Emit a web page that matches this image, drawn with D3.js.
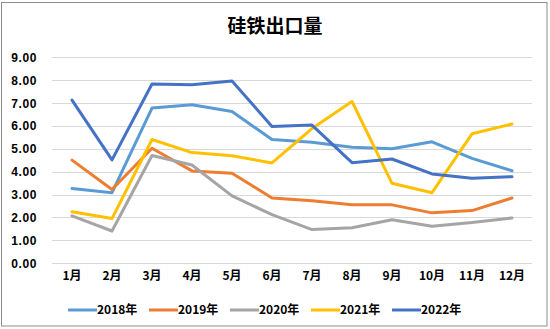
<!DOCTYPE html>
<html><head><meta charset="utf-8">
<script src="https://cdn.jsdelivr.net/npm/d3@7"></script>
<style>body{margin:0;background:#fff;}svg{display:block;}</style>
</head><body>
<svg id="c" width="550" height="329"></svg>
<script>
const months = ["1月","2月","3月","4月","5月","6月","7月","8月","9月","10月","11月","12月"];
const yTicks = [0,1,2,3,4,5,6,7,8,9];
const seriesNames = ["2018年","2019年","2020年","2021年","2022年"];
const colors = ["#5B9BD5","#ED7D31","#A5A5A5","#FFC000","#4472C4"];
const s2018 = [3.26,3.08,6.77,6.92,6.62,5.40,5.28,5.06,5.00,5.30,4.58,4.04];
const s2019 = [4.50,3.22,5.02,4.03,3.93,2.85,2.73,2.55,2.55,2.20,2.30,2.85];
const s2020 = [2.07,1.41,4.70,4.29,2.94,2.12,1.47,1.55,1.90,1.62,1.78,1.98];
const s2021 = [2.25,1.95,5.40,4.83,4.69,4.38,5.88,7.06,3.49,3.08,5.65,6.08];
const s2022 = [7.12,4.51,7.82,7.79,7.95,5.97,6.03,4.39,4.55,3.90,3.71,3.78];
const allSeries = [s2018,s2019,s2020,s2021,s2022];

const svg = d3.select("#c");
svg.append("rect").attr("x",1.5).attr("y",2.5).attr("width",545.5).attr("height",323.5)
  .attr("fill","#fff").attr("stroke","#8c8c8c").attr("stroke-width",1);

svg.append("text").attr("x",275).attr("y",33).attr("text-anchor","middle")
  .attr("font-family","'Noto Sans CJK SC'").attr("font-size",19).attr("font-weight","bold")
  .attr("fill","#000").text("硅铁出口量");

const x = d3.scaleBand().domain(months).range([52,532]);
const y = d3.scaleLinear().domain([0,9]).range([263.3,57]);

const grid = svg.append("g");
grid.selectAll("line").data(yTicks).join("line")
  .attr("x1",52).attr("x2",532)
  .attr("y1",d=>Math.round(y(d))+0.5).attr("y2",d=>Math.round(y(d))+0.5)
  .attr("stroke","#d9d9d9").attr("stroke-width",1);

const yAxis = d3.axisLeft(y).tickValues(yTicks).tickFormat(d3.format(".2f")).tickSize(0).tickPadding(0);
const ya = svg.append("g").attr("transform","translate(37,0)").call(yAxis);
ya.select(".domain").remove();
ya.selectAll("text").attr("font-family","'Liberation Sans'").attr("font-size",12)
  .attr("font-weight","bold").attr("fill","#000").attr("dy","0.35em").attr("letter-spacing","0.6px");

const xAxis = d3.axisBottom(x).tickSize(0).tickPadding(0);
const xa = svg.append("g").attr("transform","translate(0,276)").call(xAxis);
xa.select(".domain").remove();
xa.selectAll("text").attr("font-family","'Noto Sans CJK SC'").attr("font-size",12)
  .attr("font-weight","bold").attr("fill","#000").attr("dy","0.3em");

const line = d3.line().x((d,i)=>x(months[i])+x.bandwidth()/2).y(d=>y(d));
svg.append("g").selectAll("path").data(allSeries).join("path")
  .attr("d",line).attr("fill","none")
  .attr("stroke",(d,i)=>colors[i]).attr("stroke-width",3)
  .attr("stroke-linejoin","round").attr("stroke-linecap","round");

const lg = svg.append("g").selectAll("g").data(seriesNames).join("g")
  .attr("transform",(d,i)=>`translate(${68+i*81},310)`);
lg.append("line").attr("x1",0).attr("x2",29).attr("y1",0).attr("y2",0)
  .attr("stroke",(d,i)=>colors[i]).attr("stroke-width",3);
lg.append("text").attr("x",29).attr("y",0).attr("dy","0.35em")
  .attr("font-family","'Noto Sans CJK SC'").attr("font-size",12).attr("font-weight","bold")
  .attr("fill","#000").text(d=>d);
</script>
</body></html>
